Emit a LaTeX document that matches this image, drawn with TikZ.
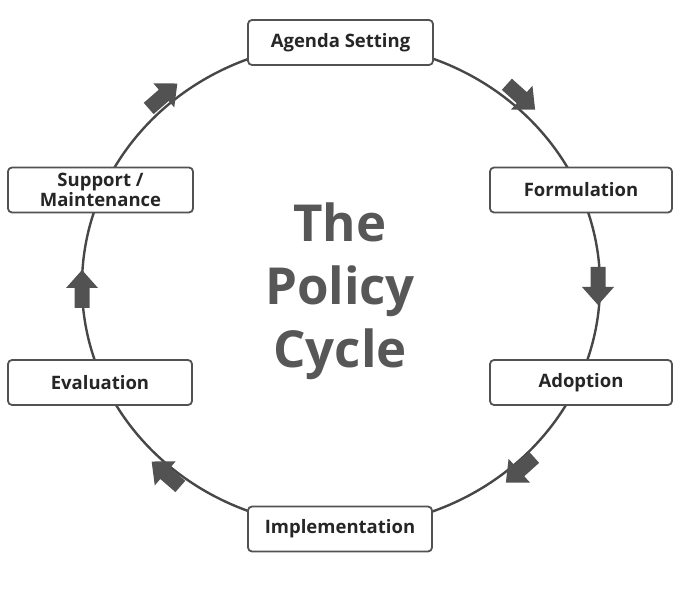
\documentclass[tikz,border=0pt]{standalone}
\usepackage{fontspec}
\setmainfont{Open Sans}
\begin{document}
\begin{tikzpicture}[x=1pt,y=1pt,
  stagebox/.style={draw=black!68, line width=1.8pt, rounded corners=4pt, fill=white,
    minimum height=45pt, align=center, font=\bfseries\fontsize{18.5}{20}\selectfont, text=black!85, inner sep=2pt},
  ring/.style={draw=black!72, line width=2.4pt},
  blockarrow/.style={fill=black!68, draw=none}]
\useasboundingbox (0,0) rectangle (693,-593);
\draw[ring] (341,-285) ellipse [x radius=259, y radius=242];
\newcommand{\blockarr}[3]{%
  \fill[blockarrow, shift={(#1,#2)}, rotate=#3]
    (-19,-7.5) -- (1,-7.5) -- (1,-16) -- (19,0) -- (1,16) -- (1,7.5) -- (-19,7.5) -- cycle;}
\blockarr{521}{-97}{-42}
\blockarr{598}{-286}{-90}
\blockarr{520}{-470}{-138}
\blockarr{166}{-474}{139}
\blockarr{82}{-289}{90}
\blockarr{163}{-96}{41}
\node[stagebox, minimum width=185pt] (agenda) at (340.5,-42.5) {Agenda Setting};
\node[stagebox, minimum width=182pt] (form) at (581,-190) {Formulation};
\node[stagebox, minimum width=182pt] (adopt) at (581,-382.5) {Adoption};
\node[stagebox, minimum width=184pt] (impl) at (340,-529) {Implementation};
\node[stagebox, minimum width=184pt] (eval) at (100,-382.5) {Evaluation};
\node[stagebox, minimum width=185pt] (supp) at (100.5,-190) {Support /\\Maintenance};
\node[font=\bfseries\fontsize{51}{63}\selectfont, text=black!66, align=center] (title) at (340,-291) {The\\Policy\\Cycle};
\end{tikzpicture}
\end{document}
